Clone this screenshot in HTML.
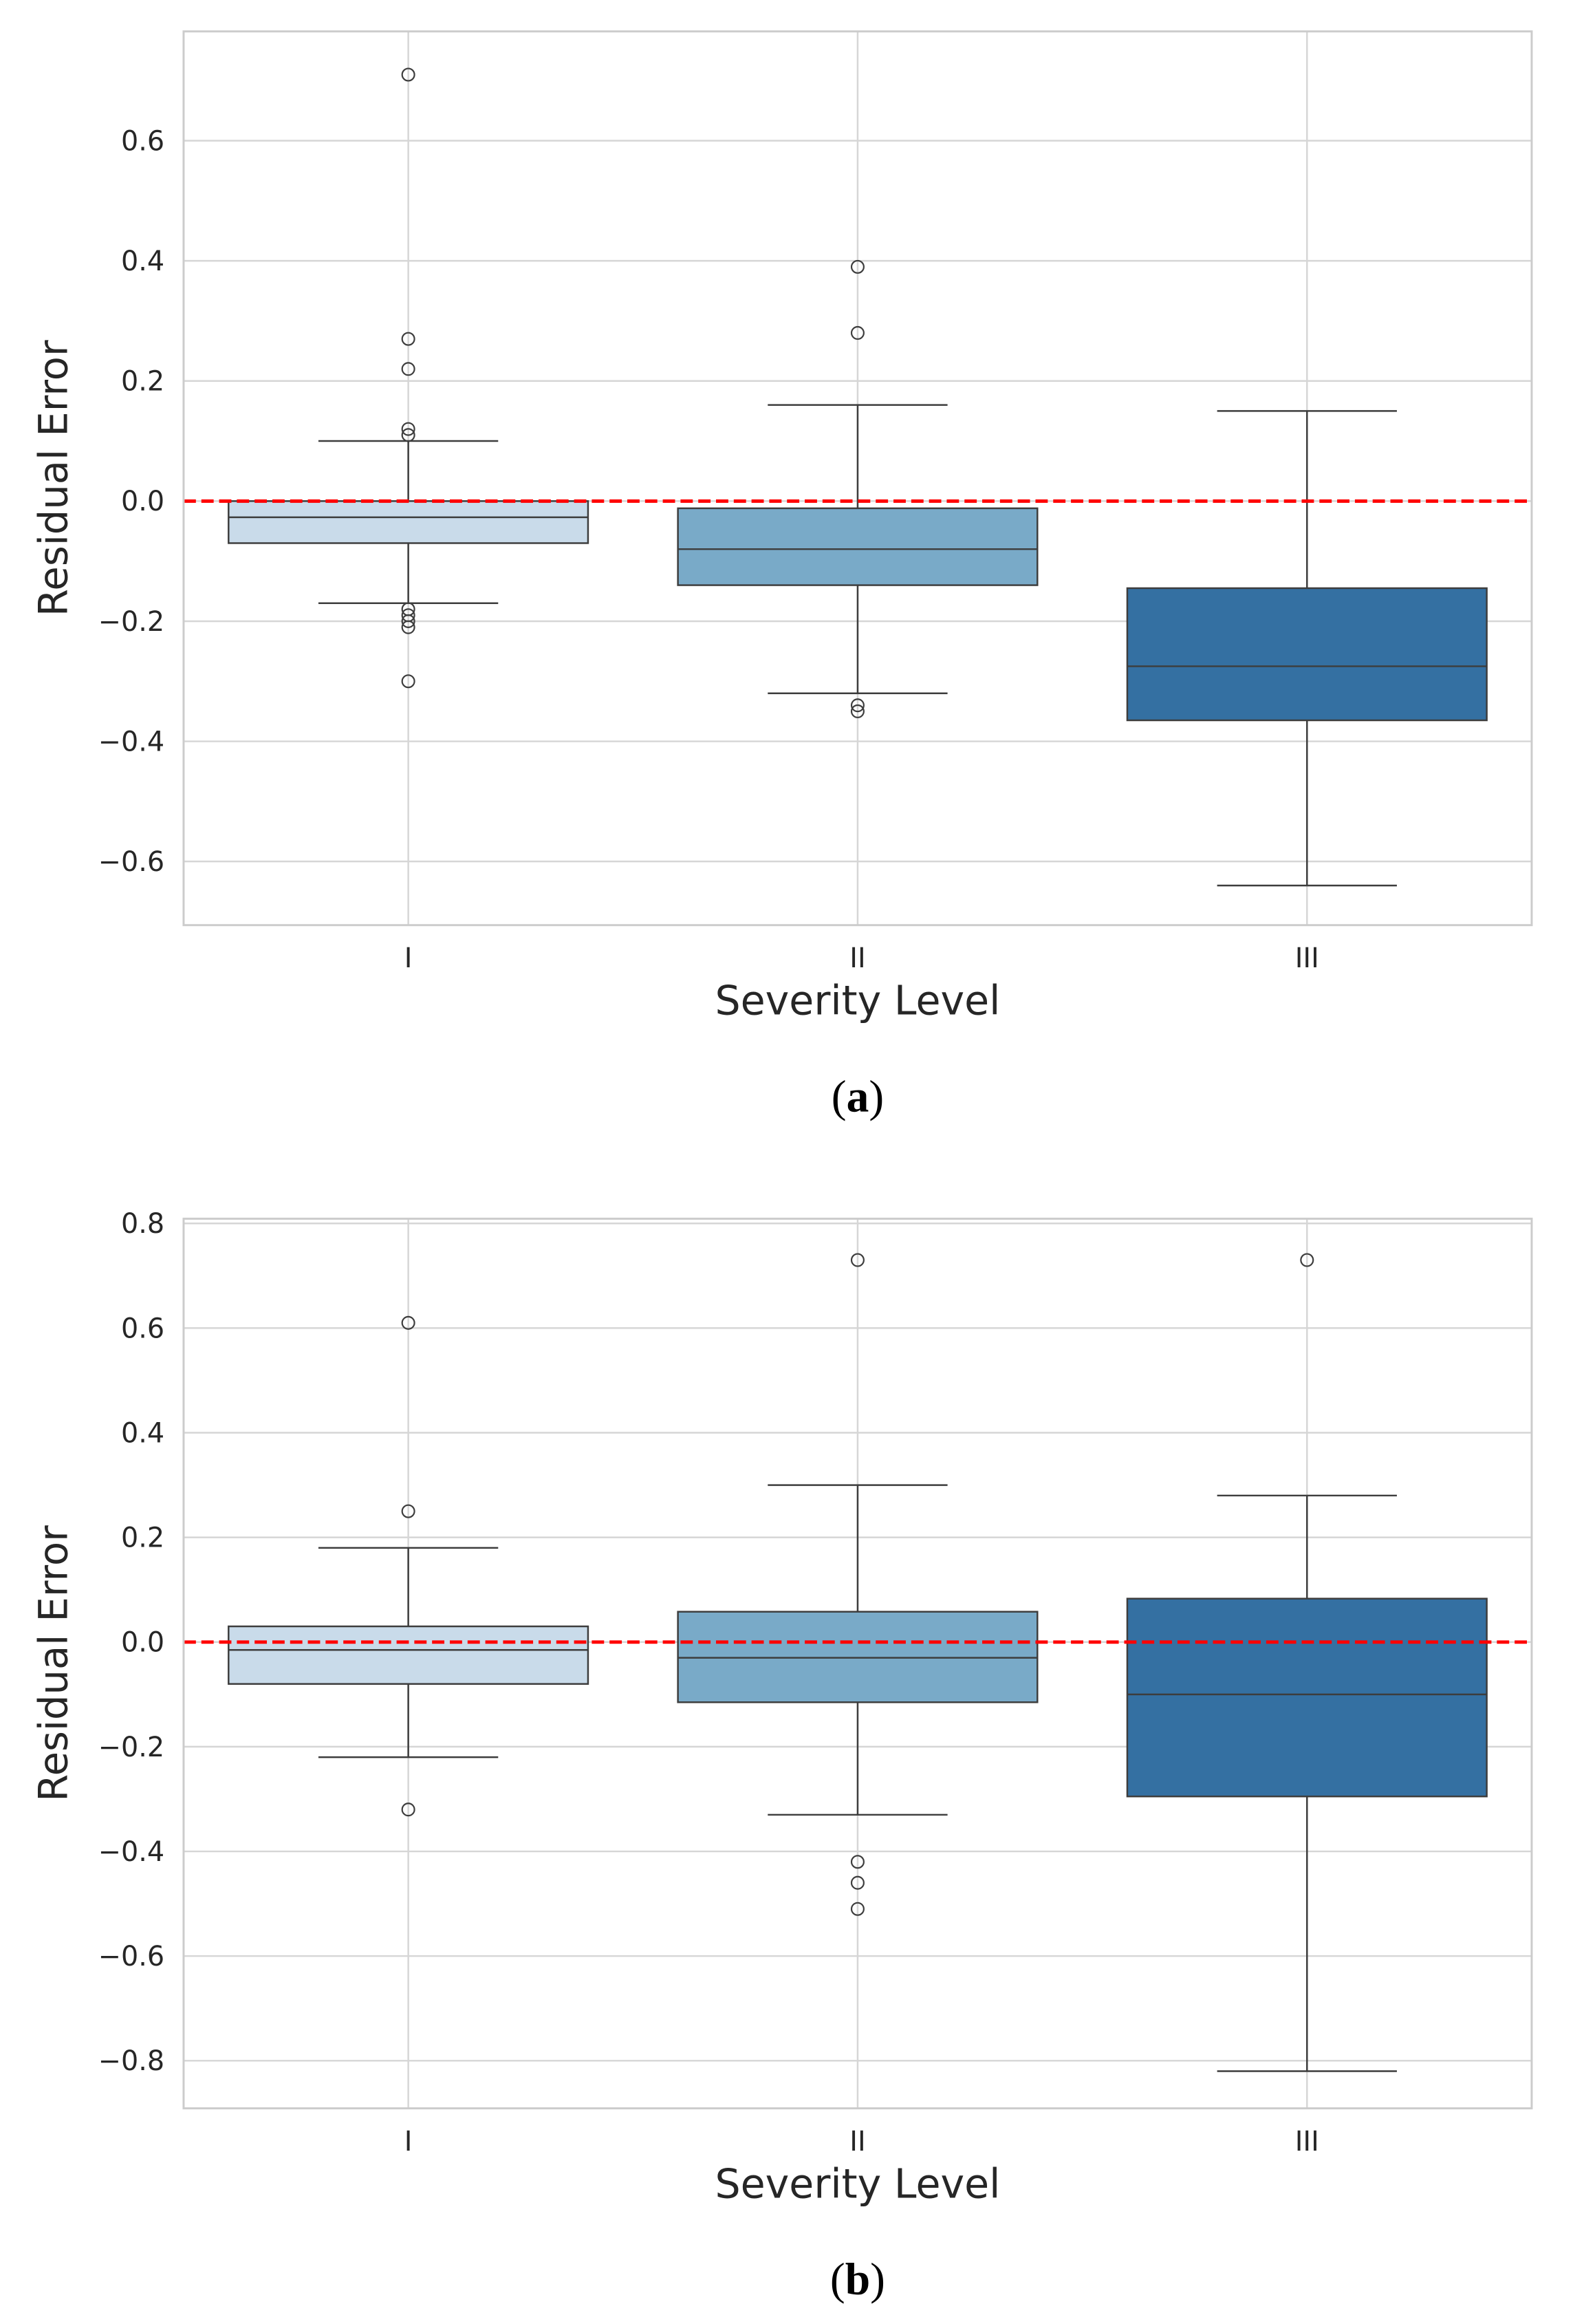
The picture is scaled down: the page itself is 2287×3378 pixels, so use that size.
<!DOCTYPE html>
<html><head><meta charset="utf-8"><style>
html,body{margin:0;padding:0;background:#fff;}
svg{display:block;}
text{font-family:"DejaVu Sans","Liberation Sans",sans-serif;fill:#262626;}
</style></head><body>
<svg id="fig" width="2287" height="3378" viewBox="0 0 2287 3378" xmlns="http://www.w3.org/2000/svg"><g id="root" transform="scale(0.9924)"></g></svg>
<script>
const categories = ["I","II","III"];
// panel a
const aQ1 = [-0.07,-0.14,-0.365];
const aQ3 = [0.0,-0.012,-0.145];
const aMed = [-0.027,-0.08,-0.275];
const aWhiskLo = [-0.17,-0.32,-0.64];
const aWhiskHi = [0.10,0.16,0.15];
const aOutliers = [[0.71,0.27,0.22,0.12,0.11,-0.18,-0.19,-0.20,-0.21,-0.30],[0.39,0.28,-0.34,-0.35],[]];
const aTicks = [-0.6,-0.4,-0.2,0.0,0.2,0.4,0.6];
// panel b
const bQ1 = [-0.08,-0.115,-0.295];
const bQ3 = [0.03,0.058,0.083];
const bMed = [-0.015,-0.03,-0.10];
const bWhiskLo = [-0.22,-0.33,-0.82];
const bWhiskHi = [0.18,0.30,0.28];
const bOutliers = [[0.61,0.25,-0.32],[0.73,-0.42,-0.46,-0.51],[0.73]];
const bTicks = [-0.8,-0.6,-0.4,-0.2,0.0,0.2,0.4,0.6,0.8];
const colors = ["#c9dbea","#79aac8","#3470a2"];

const NS="http://www.w3.org/2000/svg";
const root=document.getElementById('root');
function mk(tag,attrs,parent){const e=document.createElementNS(NS,tag);for(const k in attrs)e.setAttribute(k,attrs[k]);(parent||root).appendChild(e);return e;}
function fmt(v){return (v<0?"\u2212":"")+Math.abs(v).toFixed(1);}

function panel(p){
  const g=mk('g',{});
  
  
  const L=269,R=2244,T=p.top,B=p.bottom;
  const y=v=>B-(v-p.ymin)/(p.ymax-p.ymin)*(B-T);
  const step=(R-L)/categories.length;
  const x=i=>L+step*(i+0.5);
  p.ticks.forEach(t=>{
    const ln=mk('line',{x1:L,x2:R,y1:y(t),y2:y(t),stroke:"#d6d6d6","stroke-width":2.5},g);
    
    
    const tx=mk('text',{x:241,y:y(t)+14,"text-anchor":"end","font-size":40},g);
    tx.textContent=fmt(t);
    
    
  });
  categories.forEach((c,i)=>{
    const ln=mk('line',{x1:x(i),x2:x(i),y1:T,y2:B,stroke:"#d6d6d6","stroke-width":2.5},g);
    
    
    const tx=mk('text',{x:x(i),y:p.xtickY,"text-anchor":"middle","font-size":40},g);
    tx.textContent=c;
    
    
  });
  categories.forEach((c,i)=>{
    const bw=step*0.8, cw=step*0.4;
    const bg=mk('g',{},g);
    
    
    const s="#3d3d3d",sw=2.5;
    mk('line',{x1:x(i),x2:x(i),y1:y(p.q3[i]),y2:y(p.hi[i]),stroke:s,"stroke-width":sw},bg);
    mk('line',{x1:x(i),x2:x(i),y1:y(p.q1[i]),y2:y(p.lo[i]),stroke:s,"stroke-width":sw},bg);
    mk('line',{x1:x(i)-cw/2,x2:x(i)+cw/2,y1:y(p.hi[i]),y2:y(p.hi[i]),stroke:s,"stroke-width":sw},bg);
    mk('line',{x1:x(i)-cw/2,x2:x(i)+cw/2,y1:y(p.lo[i]),y2:y(p.lo[i]),stroke:s,"stroke-width":sw},bg);
    mk('rect',{x:x(i)-bw/2,y:y(p.q3[i]),width:bw,height:y(p.q1[i])-y(p.q3[i]),fill:colors[i],stroke:s,"stroke-width":sw},bg);
    mk('line',{x1:x(i)-bw/2,x2:x(i)+bw/2,y1:y(p.med[i]),y2:y(p.med[i]),stroke:s,"stroke-width":sw},bg);
    p.out[i].forEach(v=>{
      const o=mk('circle',{cx:x(i),cy:y(v),r:9,fill:"none",stroke:s,"stroke-width":2.2},bg);
      
      
    });
  });
  const zl=mk('line',{x1:L,x2:R,y1:y(0),y2:y(0),stroke:"#ff0000","stroke-width":5,"stroke-dasharray":"18 8"},g);
  
  
  const fr=mk('rect',{x:L,y:T,width:R-L,height:B-T,fill:"none",stroke:"#cccccc","stroke-width":3},g);
  
  
  const yl=mk('text',{x:0,y:0,"text-anchor":"middle","font-size":58,transform:`translate(98,${(T+B)/2}) rotate(-90)`},g);
  yl.textContent="Residual Error";
  
  
  const xl=mk('text',{x:(L+R)/2,y:p.xlabelY,"text-anchor":"middle","font-size":59},g);
  xl.textContent="Severity Level";
  
  
  const cap=mk('text',{x:(L+R)/2,y:p.capY,"text-anchor":"middle","font-size":66,style:"font-family:'Liberation Serif',serif;fill:#000"},g);
  cap.innerHTML='(<tspan font-weight="bold">'+p.id+'</tspan>)';
  
  
}
panel({id:'a',top:46,bottom:1355,ymin:-0.706,ymax:0.782,ticks:aTicks,q1:aQ1,q3:aQ3,med:aMed,lo:aWhiskLo,hi:aWhiskHi,out:aOutliers,xtickY:1417,xlabelY:1486,capY:1628});
panel({id:'b',top:1785,bottom:3088,ymin:-0.891,ymax:0.809,ticks:bTicks,q1:bQ1,q3:bQ3,med:bMed,lo:bWhiskLo,hi:bWhiskHi,out:bOutliers,xtickY:3150,xlabelY:3219,capY:3360});
</script>
</body></html>
